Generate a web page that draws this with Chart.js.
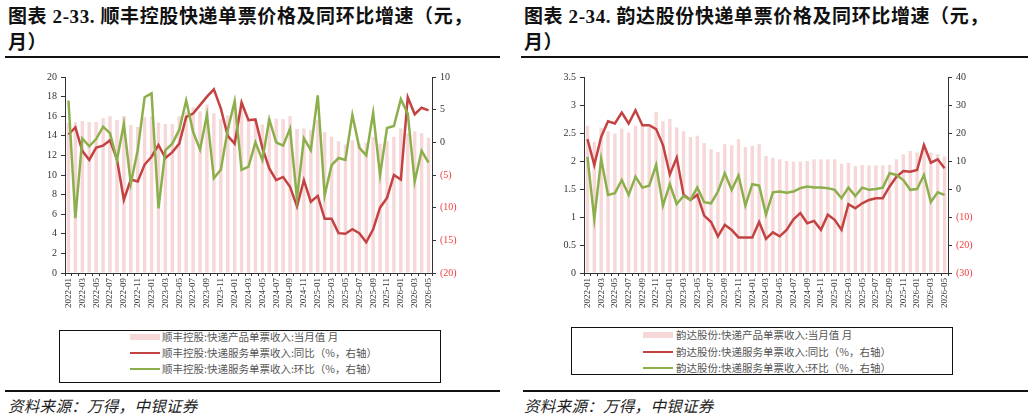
<!DOCTYPE html>
<html>
<head>
<meta charset="utf-8">
<script src="https://cdn.jsdelivr.net/npm/chart.js@4.4.0/dist/chart.umd.min.js"></script>
<style>
  body { margin: 0; width: 1033px; height: 417px; background: #fff; position: relative; overflow: hidden;
         font-family: "Liberation Serif", "Noto Sans CJK SC", serif; }
  .title { position: absolute; top: 4px; font-size: 19px; font-weight: bold; line-height: 26px; color: #111; white-space: nowrap;
           letter-spacing: 0.6px; }
  .rule { position: absolute; height: 1.5px; background: #111; }
  .chart { position: absolute; top: 60px; }
  .legend { position: absolute; border: 1.5px solid #111; box-sizing: border-box; }
  .legend .row { position: absolute; left: 0; right: 0; height: 14px; }
  .legend .sym { position: absolute; }
  .legend .txt { position: absolute; top: 0; line-height: 14px; font-size: 10.5px; color: #555; white-space: nowrap;
                 font-family: "Noto Sans CJK SC", sans-serif; }
  .source { position: absolute; top: 395px; font-size: 15.5px; line-height: 20px; font-style: italic; color: #222;
            font-family: "Noto Sans CJK SC", sans-serif; letter-spacing: 0.3px; }
</style>
</head>
<body>

<div class="title" style="left:8px">图表 2-33. 顺丰控股快递单票价格及同环比增速（元，<br>月）</div>
<div class="title" style="left:524px">图表 2-34. 韵达股份快递单票价格及同环比增速（元，<br>月）</div>
<div class="rule" style="left:5px; width:495px; top:56px"></div>
<div class="rule" style="left:521px; width:507px; top:56px"></div>

<canvas id="sfChart" class="chart" width="516" height="255" style="left:0px"></canvas>
<canvas id="ydChart" class="chart" width="517" height="255" style="left:516px"></canvas>

<div id="sfLegend" class="legend" style="left:59px; top:330px; width:382px; height:53px"></div>
<div id="ydLegend" class="legend" style="left:571px; top:327px; width:382px; height:48px"></div>

<div class="rule" style="left:5px; width:495px; top:390px"></div>
<div class="rule" style="left:523px; width:505px; top:390px"></div>
<div class="source" style="left:8px">资料来源：万得，中银证券</div>
<div class="source" style="left:524px">资料来源：万得，中银证券</div>

<script>
var months = [
  '2022-01', '2022-02', '2022-03', '2022-04', '2022-05', '2022-06', '2022-07', '2022-08', '2022-09', '2022-10', '2022-11', '2022-12',
  '2023-01', '2023-02', '2023-03', '2023-04', '2023-05', '2023-06', '2023-07', '2023-08', '2023-09', '2023-10', '2023-11', '2023-12',
  '2024-01', '2024-02', '2024-03', '2024-04', '2024-05', '2024-06', '2024-07', '2024-08', '2024-09', '2024-10', '2024-11', '2024-12',
  '2025-01', '2025-02', '2025-03', '2025-04', '2025-05', '2025-06', '2025-07', '2025-08', '2025-09', '2025-10', '2025-11', '2025-12',
  '2026-01', '2026-02', '2026-03', '2026-04', '2026-05'
];

// 顺丰控股
var sfPrice = [15.3, 15.4, 15.5, 15.4, 15.4, 15.8, 16.0, 15.6, 16.0, 15.1, 14.9, 15.9, 16.0, 15.35, 15.2, 15.2, 16.0, 16.4,
  16.9, 16.5, 17.2, 16.3, 15.7, 16.1, 17.5, 17.45, 15.8, 15.6, 15.15, 15.75, 15.75, 15.7, 16.0, 14.7, 14.75, 14.6,
  15.6, 14.35, 13.9, 13.45, 13.1, 13.55, 13.2, 13.3, 13.9, 13.2, 13.45, 13.9, 14.75, 14.25, 14.45, 14.25, 13.8];
var sfYoy = [1.2, 2.3, -1.3, -2.7, -0.8, -0.5, 0.3, -2.6, -8.8, -5.7, -6.0, -3.4, -2.2, -0.4, -2.4, -1.5, -0.2, 3.9,
  4.4, 5.7, 7.0, 8.1, 5.2, 1.0, -0.2, 6.1, 3.4, 3.5, -0.8, -4.0, -5.8, -5.3, -6.8, -9.8, -5.8, -9.1,
  -8.2, -11.7, -11.7, -13.9, -14.0, -13.3, -13.9, -15.3, -13.3, -10.0, -8.5, -5.0, -5.7, 6.9, 4.3, 5.3, 4.9];
var sfQoq = [6.4, -11.6, 0.6, -0.6, 0.5, 2.4, 1.4, -2.7, 2.8, -6.3, -1.2, 6.9, 7.5, -10.1, -1.2, -0.2, 1.9, 6.4,
  1.6, -1.1, 4.2, -5.5, -4.2, 1.9, 6.3, -4.2, -3.7, 0.0, -2.7, 3.5, 0.0, -0.5, 2.1, -8.6, 0.6, -1.2,
  7.2, -8.1, -3.5, -2.4, -2.7, 4.2, -0.8, -2.0, 4.5, -5.0, 2.2, 2.5, 6.6, 4.4, -6.0, -1.3, -3.1];
var sfNames = ['顺丰控股:快递产品单票收入:当月值 月', '顺丰控股:快递服务单票收入:同比（%，右轴）', '顺丰控股:快递服务单票收入:环比（%，右轴）'];

// 韵达股份
var ydPrice = [2.63, 2.34, 2.59, 2.53, 2.49, 2.58, 2.51, 2.63, 2.64, 2.61, 2.88, 2.71, 2.75, 2.6, 2.53, 2.43, 2.45, 2.32,
  2.21, 2.16, 2.3, 2.28, 2.39, 2.25, 2.27, 2.3, 2.09, 2.06, 2.03, 2.0, 1.99, 1.99, 2.0, 2.03, 2.03, 2.03,
  2.03, 1.95, 1.97, 1.91, 1.93, 1.92, 1.92, 1.92, 1.93, 2.03, 2.12, 2.18, 2.15, 2.3, 2.15, 2.12, 2.08];
var ydYoy = [17.8, 8.6, 18.6, 24.2, 23.4, 27.3, 23.4, 28.1, 22.8, 22.8, 21.4, 15.7, 5.2, 11.2, -2.1, -3.9, -2.1, -9.5,
  -11.8, -16.9, -12.8, -14.6, -17.3, -17.3, -17.3, -11.8, -17.8, -15.5, -16.9, -14.6, -10.8, -8.6, -12.2, -11.4, -14.6, -9.2,
  -11.0, -14.6, -5.4, -6.9, -5.1, -3.9, -3.3, -3.3, 0.9, 4.4, 6.4, 6.2, 6.8, 15.7, 9.4, 10.6, 7.4];
var ydQoq = [11.5, -10.7, 10.7, -2.1, -1.5, 3.2, -2.1, 4.4, 0.5, 1.2, 8.6, -5.9, 1.7, -5.4, -2.5, -3.9, 0.5, -4.7,
  -5.1, -0.9, 5.6, -0.3, 4.8, -5.9, 1.7, 1.2, -9.1, -1.2, -0.9, -1.3, -0.9, 0.3, 0.9, 0.5, 0.5, 0.3,
  -0.3, -3.3, 0.5, -2.5, 0.5, -0.3, 0.0, 0.5, 5.6, 5.0, 3.2, -0.3, 0.0, 5.0, -4.7, -1.2, -2.1];
var ydNames = ['韵达股份:快递产品单票收入:当月值 月', '韵达股份:快递服务单票收入:同比（%，右轴）', '韵达股份:快递服务单票收入:环比（%，右轴）'];

var barColor = '#F6D8D8';
var redColor = '#C34343';
var greenColor = '#8CAF4B';
var axisColor = '#333';
var tickFont = { family: 'Liberation Serif', size: 10 };

function makeChart(id, price, yoy, qoq, names, left, right, leftWidth, rightWidth) {
  new Chart(document.getElementById(id), {
    type: 'bar',
    data: {
      labels: months,
      datasets: [
        { label: names[0], data: price, backgroundColor: barColor, barPercentage: 0.5, categoryPercentage: 1, yAxisID: 'y', order: 3 },
        { type: 'line', label: names[1], data: yoy, borderColor: redColor, borderWidth: 2.5, pointRadius: 0, tension: 0, yAxisID: 'y1', order: 2 },
        { type: 'line', label: names[2], data: qoq, borderColor: greenColor, borderWidth: 2.5, pointRadius: 0, tension: 0, yAxisID: 'y1', order: 1 }
      ]
    },
    options: {
      responsive: false,
      animation: false,
      devicePixelRatio: 1,
      layout: { padding: { top: 17, left: 0, right: 0, bottom: 0 } },
      plugins: { legend: { display: false }, tooltip: { enabled: false } },
      scales: {
        x: {
          grid: { drawOnChartArea: false, tickLength: 3, color: axisColor },
          border: { color: axisColor },
          ticks: {
            autoSkip: false, minRotation: 90, maxRotation: 90, padding: 2, color: axisColor,
            font: { family: 'Liberation Serif', size: 9 },
            callback: function (v, i) { return i % 2 === 0 ? months[i] : ''; }
          },
          afterFit: function (scale) { scale.height = 42; }
        },
        y: {
          position: 'left', min: left.min, max: left.max,
          grid: { drawOnChartArea: false, tickLength: 4, color: axisColor },
          border: { color: axisColor },
          ticks: { stepSize: left.step, padding: 4, color: axisColor, font: tickFont,
            callback: function (v) { return String(v); } },
          afterFit: function (scale) { scale.width = leftWidth; }
        },
        y1: {
          position: 'right', min: right.min, max: right.max,
          grid: { drawOnChartArea: false, tickLength: 4, color: axisColor },
          border: { color: axisColor },
          ticks: { stepSize: right.step, padding: 4, font: tickFont,
            color: function (c) { return c.tick.value < 0 ? '#F03A3A' : axisColor; },
            callback: function (v) { return v < 0 ? '(' + (-v) + ')' : String(v); } },
          afterFit: function (scale) { scale.width = rightWidth; }
        }
      }
    }
  });
}

function makeLegend(id, names, rows, symLeft, txtLeft) {
  var box = document.getElementById(id);
  var kinds = [
    { color: barColor, h: 6 },
    { color: redColor, h: 2.5 },
    { color: greenColor, h: 2.5 }
  ];
  names.forEach(function (name, i) {
    var row = document.createElement('div');
    row.className = 'row';
    row.style.top = (rows[i] - 7) + 'px';
    var sym = document.createElement('div');
    sym.className = 'sym';
    sym.style.left = symLeft + 'px';
    sym.style.width = '30px';
    sym.style.height = kinds[i].h + 'px';
    sym.style.top = (7 - kinds[i].h / 2) + 'px';
    sym.style.background = kinds[i].color;
    var txt = document.createElement('div');
    txt.className = 'txt';
    txt.style.left = txtLeft + 'px';
    txt.textContent = name;
    row.appendChild(sym);
    row.appendChild(txt);
    box.appendChild(row);
  });
}

makeChart('sfChart', sfPrice, sfYoy, sfQoq, sfNames, { min: 0, max: 20, step: 2 }, { min: -20, max: 10, step: 5 }, 65, 84);
makeChart('ydChart', ydPrice, ydYoy, ydQoq, ydNames, { min: 0, max: 3.5, step: 0.5 }, { min: -30, max: 40, step: 10 }, 68, 85);
makeLegend('sfLegend', sfNames, [6, 22, 38], 70, 102);
makeLegend('ydLegend', ydNames, [7, 24, 40], 71, 104);
</script>
</body>
</html>
